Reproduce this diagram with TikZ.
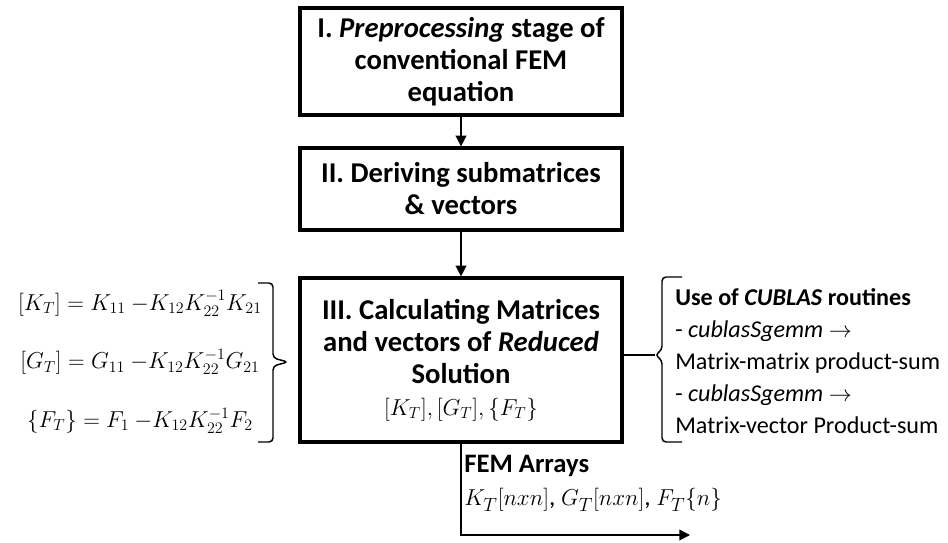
\documentclass[tikz,border=0pt]{standalone}
\usepackage{amsmath}
\usepackage{fontspec}
\setmainfont{Carlito}
\usepackage{tikz}
\usetikzlibrary{
	arrows.meta,
	calc,
	positioning
}

\begin{document}
\begin{tikzpicture}[x=0.75pt, y=-0.75pt,
		stagebox/.style={draw, line width=2.4pt, align=center, font=\fontsize{21.5}{24}\selectfont\bfseries, minimum width=241.5pt, inner sep=0pt},
		flow/.style={line width=1.1pt, -{Triangle[width=8pt,length=8pt]}},
		brk/.style={line width=1.1pt, rounded corners=3pt}]
		\useasboundingbox (0,0) rectangle (948,542);
		
		% stages
		\node[stagebox, minimum height=80.25pt] (S1) at (461,61.5) {I. \textit{Preprocessing} stage of\\conventional FEM\\equation};
		\node[stagebox, minimum height=61.5pt] (S2) at (461,189) {II. Deriving submatrices\\\& vectors};
		\node[stagebox, minimum height=123pt] (S3) at (461,360) {III. Calculating Matrices\\and vectors of \textit{Reduced}\\Solution\\\mdseries\fontsize{17}{24}\selectfont$[K_T],[G_T],\{F_T\}$};
		
		\draw[flow] (S1) -- (S2);
		\draw[flow] (S2) -- (S3);
		
		% output arrays
		\coordinate (C) at (461,535);
		\coordinate (Out) at (690,535);
		\draw[flow] (S3.south) -- (C) -- (Out);
		\node[anchor=north west, align=left, font=\fontsize{20}{25}\selectfont, inner sep=0pt] (FEM) at (464,455)
			{\textbf{FEM Arrays}\\\fontsize{19}{25}\selectfont$K_T[nxn]$, $G_T[nxn]$, $F_T\{n\}$};
		
		% reduced equations
		\node[align=center, font=\fontsize{17}{44}\selectfont, inner sep=0pt] (Eq) at (140,362)
			{$[K_T] = K_{11}\ {-}K_{12}K_{22}^{-1}K_{21}$\\
			 $[G_T] = G_{11}\ {-}K_{12}K_{22}^{-1}G_{21}$\\
			 $\{F_T\} = F_1\ {-}K_{12}K_{22}^{-1}F_2$};
		\draw[brk] (258,283) -- (273,283) -- (273,358) -- (288,362) -- (273,366) -- (273,442) -- (258,442);
		
		% CUBLAS routines
		\coordinate (BT) at (655,355);
		\draw[line width=1.1pt] (S3.east |- BT) -- (BT);
		\draw[brk] (682,277) -- (662,277) -- (662,350) -- (655,355) -- (662,360) -- (662,442) -- (682,442);
		\node[anchor=west, align=left, font=\fontsize{18.1}{24}\selectfont, inner sep=0pt] (Cub) at (675,361)
			{\textbf{Use of \textit{CUBLAS} routines}\\
			 - \textit{cublasSgemm} $\rightarrow$\\
			 Matrix-matrix product-sum\\
			 - \textit{cublasSgemm} $\rightarrow$\\
			 Matrix-vector Product-sum};
	\end{tikzpicture}
\end{document}
